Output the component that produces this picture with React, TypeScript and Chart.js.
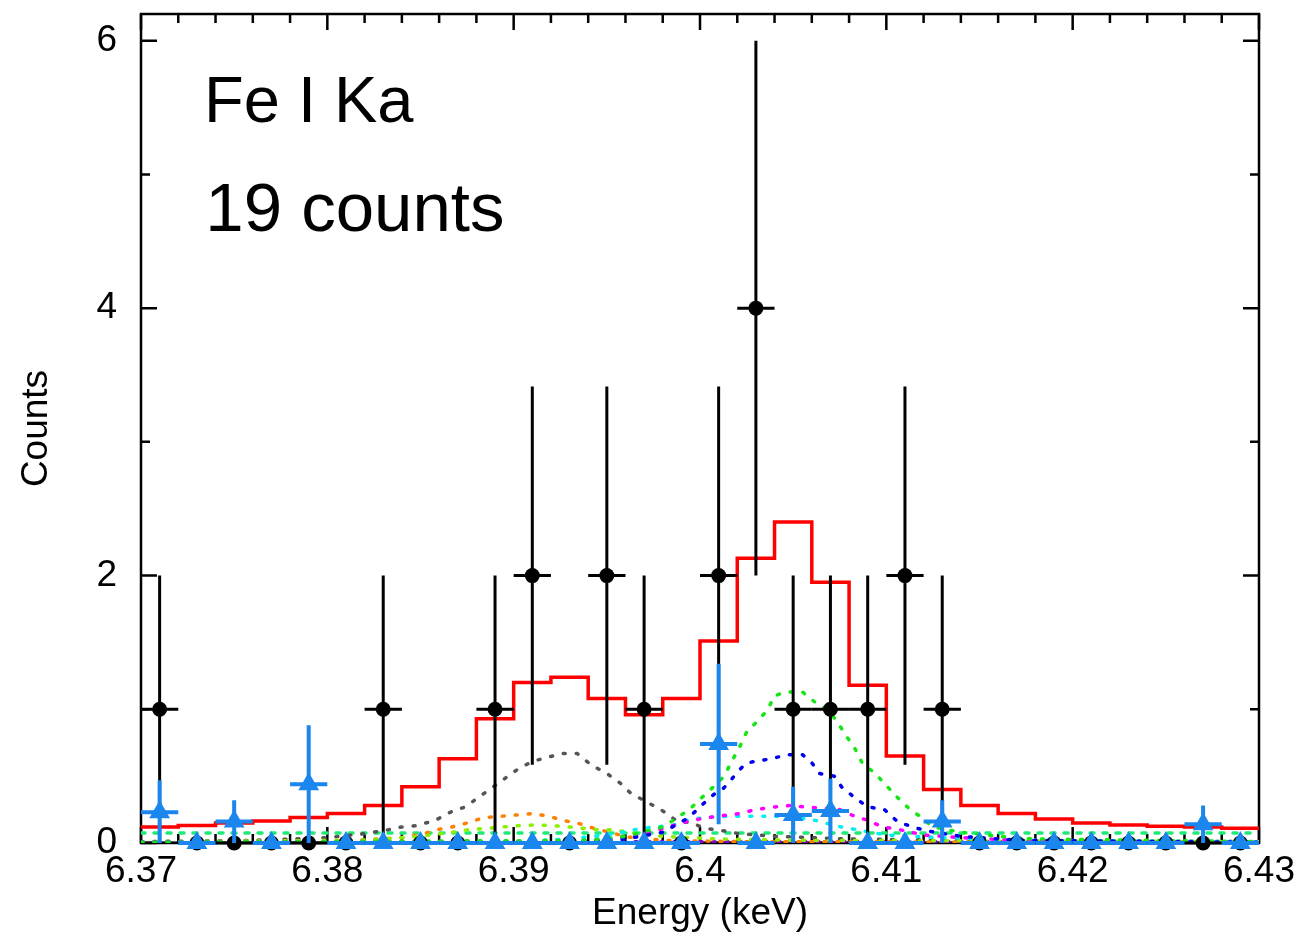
import React, { useEffect, useRef } from 'react';
import { Chart, registerables } from 'chart.js';

Chart.register(...registerables);

// ---------- data ----------
const binCenters = [
  6.371, 6.373, 6.375, 6.377, 6.379, 6.381, 6.383, 6.385, 6.387, 6.389,
  6.391, 6.393, 6.395, 6.397, 6.399, 6.401, 6.403, 6.405, 6.407, 6.409,
  6.411, 6.413, 6.415, 6.417, 6.419, 6.421, 6.423, 6.425, 6.427, 6.429,
];
const blackCounts = [
  1, 0, 0, 0, 0, 0, 1, 0, 0, 1,
  2, 0, 2, 1, 0, 2, 4, 1, 1, 1,
  2, 1, 0, 0, 0, 0, 0, 0, 0, 0,
];
const blackErrors = [
  1, 0, 0, 0, 0, 0, 1, 0, 0, 1,
  1.414, 0, 1.414, 1, 0, 1.414, 2, 1, 1, 1,
  1.414, 1, 0, 0, 0, 0, 0, 0, 0, 0,
];
const blueValues = [
  0.23, 0, 0.16, 0, 0.44, 0, 0, 0, 0, 0,
  0, 0, 0, 0, 0, 0.74, 0, 0.21, 0.24, 0,
  0, 0.16, 0, 0, 0, 0, 0, 0, 0.14, 0,
];
const blueErrors = [
  0.24, 0, 0.16, 0, 0.44, 0, 0, 0, 0, 0,
  0, 0, 0, 0, 0, 0.6, 0, 0.21, 0.24, 0,
  0, 0.16, 0, 0, 0, 0, 0, 0, 0.14, 0,
];
const binHalfWidth = 0.001;

const modelEdges = [
  6.370, 6.372, 6.374, 6.376, 6.378, 6.380, 6.382, 6.384, 6.386, 6.388,
  6.390, 6.392, 6.394, 6.396, 6.398, 6.400, 6.402, 6.404, 6.406, 6.408,
  6.410, 6.412, 6.414, 6.416, 6.418, 6.420, 6.422, 6.424, 6.426, 6.428, 6.430,
];
const modelTotal = [
  0.12, 0.13, 0.15, 0.165, 0.19, 0.22, 0.28, 0.42, 0.63, 0.93,
  1.2, 1.24, 1.08, 0.96, 1.08, 1.51, 2.13, 2.4, 1.95, 1.18,
  0.65, 0.40, 0.28, 0.22, 0.18, 0.15, 0.135, 0.125, 0.12, 0.11,
];

const grayX = [6.370, 6.376, 6.380, 6.382, 6.3833, 6.3840, 6.3848, 6.3858, 6.3866, 6.3874, 6.3881, 6.3888, 6.3895, 6.3902, 6.3910, 6.3918, 6.3926, 6.3934, 6.3942, 6.3950, 6.3957, 6.3963, 6.3971, 6.3979, 6.3987, 6.3995, 6.4003, 6.4013, 6.4021, 6.404, 6.408, 6.414, 6.430];
const grayY = [0.01, 0.02, 0.04, 0.07, 0.1, 0.12, 0.13, 0.17, 0.23, 0.27, 0.34, 0.41, 0.48, 0.55, 0.61, 0.64, 0.67, 0.67, 0.58, 0.52, 0.45, 0.37, 0.31, 0.25, 0.17, 0.15, 0.11, 0.09, 0.07, 0.05, 0.03, 0.02, 0.01];

const orangeX = [6.370, 6.380, 6.384, 6.3852, 6.3859, 6.3867, 6.3875, 6.3884, 6.3893, 6.3902, 6.3910, 6.3919, 6.3926, 6.3934, 6.3943, 6.3953, 6.3961, 6.398, 6.402, 6.430];
const orangeY = [0.0, 0.01, 0.04, 0.07, 0.1, 0.12, 0.15, 0.19, 0.2, 0.21, 0.22, 0.2, 0.17, 0.15, 0.11, 0.075, 0.045, 0.02, 0.01, 0.005];

const limeX = [6.370, 6.382, 6.385, 6.3867, 6.3876, 6.3886, 6.3894, 6.3903, 6.3912, 6.3921, 6.3930, 6.3945, 6.3953, 6.3962, 6.398, 6.401, 6.405, 6.430];
const limeY = [0.01, 0.02, 0.05, 0.08, 0.1, 0.11, 0.12, 0.13, 0.135, 0.13, 0.12, 0.1, 0.1, 0.08, 0.05, 0.03, 0.02, 0.01];

const cyanX = [6.370, 6.390, 6.393, 6.395, 6.3965, 6.3975, 6.3985, 6.3993, 6.4002, 6.4015, 6.4030, 6.4045, 6.4058, 6.4065, 6.4072, 6.4080, 6.410, 6.413, 6.418, 6.430];
const cyanY = [0.005, 0.01, 0.03, 0.06, 0.1, 0.12, 0.13, 0.17, 0.19, 0.2, 0.2, 0.2, 0.18, 0.16, 0.13, 0.11, 0.06, 0.04, 0.02, 0.01];

const magentaX = [6.370, 6.393, 6.395, 6.397, 6.3983, 6.3993, 6.4004, 6.4021, 6.4030, 6.4040, 6.4048, 6.4056, 6.4066, 6.4075, 6.4083, 6.4090, 6.4098, 6.4107, 6.412, 6.414, 6.417, 6.430];
const magentaY = [0.005, 0.01, 0.03, 0.07, 0.12, 0.16, 0.19, 0.22, 0.25, 0.27, 0.28, 0.27, 0.26, 0.25, 0.2, 0.17, 0.12, 0.1, 0.06, 0.04, 0.02, 0.005];

const blueLineX = [6.370, 6.394, 6.396, 6.398, 6.3994, 6.4003, 6.4008, 6.4012, 6.4016, 6.4020, 6.4025, 6.4030, 6.4038, 6.4047, 6.4055, 6.4060, 6.4064, 6.4072, 6.4076, 6.4083, 6.4090, 6.4099, 6.4106, 6.4114, 6.4122, 6.414, 6.417, 6.430];
const blueLineY = [0.005, 0.01, 0.03, 0.08, 0.19, 0.31, 0.37, 0.40, 0.46, 0.53, 0.60, 0.61, 0.63, 0.66, 0.66, 0.60, 0.52, 0.50, 0.42, 0.34, 0.27, 0.25, 0.16, 0.12, 0.09, 0.05, 0.02, 0.005];

const greenX = [6.370, 6.394, 6.396, 6.398, 6.3988, 6.3995, 6.4001, 6.4008, 6.4013, 6.4017, 6.4021, 6.4025, 6.4030, 6.4036, 6.4040, 6.4046, 6.4055, 6.4062, 6.4069, 6.4074, 6.4078, 6.4083, 6.4087, 6.4094, 6.4100, 6.4106, 6.4112, 6.4119, 6.4125, 6.414, 6.416, 6.418, 6.430];
const greenY = [0.005, 0.02, 0.05, 0.12, 0.19, 0.26, 0.34, 0.43, 0.50, 0.61, 0.71, 0.83, 0.90, 0.99, 1.10, 1.13, 1.13, 1.05, 0.99, 0.90, 0.81, 0.71, 0.60, 0.52, 0.43, 0.34, 0.26, 0.19, 0.12, 0.08, 0.05, 0.03, 0.01];

const springX = [6.370, 6.430];
const springY = [0.075, 0.075];
const purpleX = [6.370, 6.430];
const purpleY = [0.01, 0.01];
const baseX = [6.370, 6.430];
const baseY = [0.003, 0.003];

const xTickValues = [6.37, 6.38, 6.39, 6.4, 6.41, 6.42, 6.43];
const xTickLabels = ['6.37', '6.38', '6.39', '6.4', '6.41', '6.42', '6.43'];
const xMinorTicks = [
  6.372, 6.374, 6.376, 6.378, 6.382, 6.384, 6.386, 6.388, 6.392, 6.394, 6.396, 6.398,
  6.402, 6.404, 6.406, 6.408, 6.412, 6.414, 6.416, 6.418, 6.422, 6.424, 6.426, 6.428,
];
const yTickValues = [0, 2, 4, 6];
const yTickLabels = ['0', '2', '4', '6'];
const yMinorTicks = [1, 3, 5];

const annotationLines = ['Fe I Ka', '19 counts'];
const annotationX = [6.37338, 6.37345];
const annotationY = [5.39, 4.58];
const annotationSize = [65, 69];

// ---------- helpers ----------
const pts = (xs: number[], ys: number[]) => xs.map((x, i) => ({ x, y: ys[i] }));

const FONT = "'Liberation Sans', Arial, Helvetica, sans-serif";

const framePlugin = {
  id: 'frameTicks',
  beforeDatasetsDraw(chart: any) {
    const { ctx, chartArea } = chart;
    const xs = chart.scales.x;
    const ys = chart.scales.y;
    const { left, right, top, bottom } = chartArea;
    ctx.save();
    ctx.strokeStyle = '#000';
    ctx.lineWidth = 2.5;
    ctx.lineCap = 'butt';
    ctx.strokeRect(left, top, right - left, bottom - top);
    const major = 16;
    const minor = 9;
    ctx.beginPath();
    xTickValues.forEach((v) => {
      const p = xs.getPixelForValue(v);
      ctx.moveTo(p, bottom); ctx.lineTo(p, bottom - major);
      ctx.moveTo(p, top); ctx.lineTo(p, top + major);
    });
    xMinorTicks.forEach((v) => {
      const p = xs.getPixelForValue(v);
      ctx.moveTo(p, bottom); ctx.lineTo(p, bottom - minor);
      ctx.moveTo(p, top); ctx.lineTo(p, top + minor);
    });
    yTickValues.forEach((v) => {
      const p = ys.getPixelForValue(v);
      ctx.moveTo(left, p); ctx.lineTo(left + major, p);
      ctx.moveTo(right, p); ctx.lineTo(right - major, p);
    });
    yMinorTicks.forEach((v) => {
      const p = ys.getPixelForValue(v);
      ctx.moveTo(left, p); ctx.lineTo(left + minor, p);
      ctx.moveTo(right, p); ctx.lineTo(right - minor, p);
    });
    ctx.stroke();
    ctx.restore();
  },
  afterDatasetsDraw(chart: any) {
    const { ctx } = chart;
    const xs = chart.scales.x;
    const ys = chart.scales.y;
    ctx.save();
    ctx.fillStyle = '#000';
    ctx.textAlign = 'left';
    ctx.textBaseline = 'alphabetic';
    annotationLines.forEach((t, i) => {
      ctx.font = `${annotationSize[i]}px ${FONT}`;
      ctx.fillText(t, xs.getPixelForValue(annotationX[i]), ys.getPixelForValue(annotationY[i]));
    });
    ctx.restore();
  },
};

const errorBarPlugin = {
  id: 'errorBars',
  beforeDatasetDraw(chart: any, args: any) {
    const ds = chart.data.datasets[args.index];
    const eb = ds.errorBars;
    if (!eb) return;
    const { ctx } = chart;
    const xs = chart.scales.x;
    const ys = chart.scales.y;
    ctx.save();
    ctx.strokeStyle = eb.color;
    ctx.lineWidth = eb.width;
    ctx.lineCap = 'butt';
    ds.data.forEach((p: any, i: number) => {
      const px = xs.getPixelForValue(p.x);
      const py = ys.getPixelForValue(p.y);
      ctx.beginPath();
      ctx.moveTo(xs.getPixelForValue(p.x - eb.half), py);
      ctx.lineTo(xs.getPixelForValue(p.x + eb.half), py);
      const e = eb.err[i];
      if (e > 0) {
        ctx.moveTo(px, ys.getPixelForValue(Math.max(0, p.y - e)));
        ctx.lineTo(px, ys.getPixelForValue(p.y + e));
      }
      ctx.stroke();
    });
    ctx.restore();
  },
};

const dotted = (label: string, xs: number[], ys: number[], color: string, dash = [2, 11]) => ({
  label,
  data: pts(xs, ys),
  showLine: true,
  borderColor: color,
  backgroundColor: color,
  borderWidth: 3.5,
  borderDash: dash,
  borderCapStyle: 'round',
  pointRadius: 0,
  tension: 0,
});

export default function App() {
  const canvasRef = useRef<HTMLCanvasElement | null>(null);

  useEffect(() => {
    const canvas = canvasRef.current;
    if (!canvas) return;
    Chart.defaults.font.family = FONT;
    Chart.defaults.color = '#000';

    const modelPoints = modelEdges.map((x, i) => ({ x, y: modelTotal[Math.min(i, modelTotal.length - 1)] }));

    const chart = new Chart(canvas, {
      type: 'scatter',
      data: {
        datasets: [
          {
            label: 'blue data',
            data: pts(binCenters, blueValues),
            pointStyle: 'triangle',
            pointRadius: 12,
            pointBackgroundColor: '#1a86ee',
            pointBorderColor: '#1a86ee',
            pointBorderWidth: 0,
            showLine: false,
            clip: false,
            errorBars: { color: '#1a86ee', width: 4, half: binHalfWidth, err: blueErrors },
          } as any,
          {
            label: 'black data',
            data: pts(binCenters, blackCounts),
            pointStyle: 'circle',
            pointRadius: 7.5,
            pointBackgroundColor: '#000',
            pointBorderColor: '#000',
            pointBorderWidth: 0,
            showLine: false,
            clip: false,
            errorBars: { color: '#000', width: 3, half: binHalfWidth, err: blackErrors },
          } as any,
          {
            label: 'model',
            data: modelPoints,
            showLine: true,
            stepped: 'before',
            borderColor: '#ff0000',
            borderWidth: 3.5,
            pointRadius: 0,
          },
          dotted('green', greenX, greenY, '#14e614'),
          dotted('blue', blueLineX, blueLineY, '#0000ee'),
          dotted('magenta', magentaX, magentaY, '#ff00ff'),
          dotted('cyan', cyanX, cyanY, '#00f0f0'),
          dotted('lime', limeX, limeY, '#8cee00'),
          dotted('orange', orangeX, orangeY, '#ff8000'),
          dotted('gray', grayX, grayY, '#555555'),
          dotted('spring', springX, springY, '#1eea78', [4, 9]),
          dotted('purple', purpleX, purpleY, '#8800cc'),
          {
            label: 'base',
            data: pts(baseX, baseY),
            showLine: true,
            borderColor: '#000',
            borderWidth: 2,
            pointRadius: 0,
          },
        ] as any,
      },
      options: {
        animation: false,
        responsive: false,
        maintainAspectRatio: false,
        events: [],
        layout: { padding: { top: 14, right: 43, left: 0, bottom: 0 } },
        plugins: {
          legend: { display: false },
          tooltip: { enabled: false },
        },
        scales: {
          x: {
            type: 'linear',
            min: 6.37,
            max: 6.43,
            grid: { display: false, drawTicks: false },
            border: { display: false },
            afterBuildTicks: (scale: any) => {
              scale.ticks = xTickValues.map((v) => ({ value: v }));
            },
            afterFit: (scale: any) => {
              scale.height = 93;
              scale.paddingLeft = 0;
              scale.paddingRight = 0;
            },
            ticks: {
              autoSkip: false,
              maxRotation: 0,
              minRotation: 0,
              padding: 7,
              font: { size: 37 },
              color: '#000',
              callback: (_v: any, i: number) => xTickLabels[i],
            },
            title: {
              display: true,
              text: 'Energy (keV)',
              font: { size: 37 },
              color: '#000',
              padding: { top: 0, bottom: 0 },
            },
          },
          y: {
            type: 'linear',
            min: 0,
            max: 6.2,
            grid: { display: false, drawTicks: false },
            border: { display: false },
            afterBuildTicks: (scale: any) => {
              scale.ticks = yTickValues.map((v) => ({ value: v }));
            },
            afterFit: (scale: any) => {
              scale.width = 141;
              scale.paddingTop = 0;
              scale.paddingBottom = 0;
            },
            ticks: {
              padding: 24,
              font: { size: 37 },
              color: '#000',
              callback: (_v: any, i: number) => yTickLabels[i],
            },
            title: {
              display: true,
              text: 'Counts',
              font: { size: 37 },
              color: '#000',
              padding: { top: 15, bottom: 0 },
            },
          },
        },
      } as any,
      plugins: [framePlugin, errorBarPlugin],
    });

    return () => {
      chart.destroy();
    };
  }, []);

  return (
    <div style={{ position: 'absolute', left: 0, top: 0, width: 1302, height: 936, background: '#fff' }}>
      <canvas ref={canvasRef} width={1302} height={936} style={{ display: 'block', width: 1302, height: 936 }} />
    </div>
  );
}
